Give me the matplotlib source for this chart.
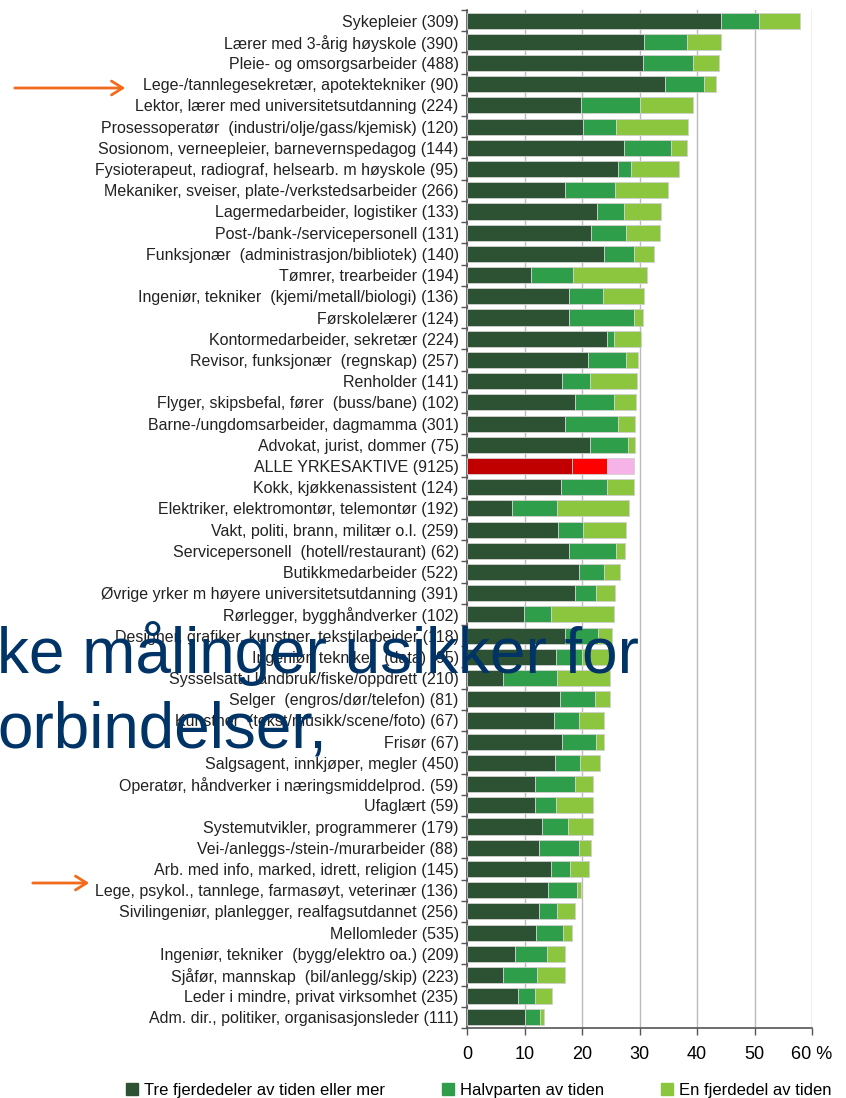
import matplotlib
matplotlib.use('Agg')
import matplotlib.pyplot as plt
import numpy as np

plt.rcParams['font.family'] = ['Liberation Sans', 'DejaVu Sans']

categories = [
    'Sykepleier (309)',
    'Lærer med 3-årig høyskole (390)',
    'Pleie- og omsorgsarbeider (488)',
    'Lege-/tannlegesekretær, apotektekniker (90)',
    'Lektor, lærer med universitetsutdanning (224)',
    'Prosessoperatør  (industri/olje/gass/kjemisk) (120)',
    'Sosionom, verneepleier, barnevernspedagog (144)',
    'Fysioterapeut, radiograf, helsearb. m høyskole (95)',
    'Mekaniker, sveiser, plate-/verkstedsarbeider (266)',
    'Lagermedarbeider, logistiker (133)',
    'Post-/bank-/servicepersonell (131)',
    'Funksjonær  (administrasjon/bibliotek) (140)',
    'Tømrer, trearbeider (194)',
    'Ingeniør, tekniker  (kjemi/metall/biologi) (136)',
    'Førskolelærer (124)',
    'Kontormedarbeider, sekretær (224)',
    'Revisor, funksjonær  (regnskap) (257)',
    'Renholder (141)',
    'Flyger, skipsbefal, fører  (buss/bane) (102)',
    'Barne-/ungdomsarbeider, dagmamma (301)',
    'Advokat, jurist, dommer (75)',
    'ALLE YRKESAKTIVE (9125)',
    'Kokk, kjøkkenassistent (124)',
    'Elektriker, elektromontør, telemontør (192)',
    'Vakt, politi, brann, militær o.l. (259)',
    'Servicepersonell  (hotell/restaurant) (62)',
    'Butikkmedarbeider (522)',
    'Øvrige yrker m høyere universitetsutdanning (391)',
    'Rørlegger, bygghåndverker (102)',
    'Designer, grafiker, kunstner, tekstilarbeider (118)',
    'Ingeniør, tekniker  (data) (95)',
    'Sysselsatt i landbruk/fiske/oppdrett (210)',
    'Selger  (engros/dør/telefon) (81)',
    'Kunstner  (tekst/musikk/scene/foto) (67)',
    'Frisør (67)',
    'Salgsagent, innkjøper, megler (450)',
    'Operatør, håndverker i næringsmiddelprod. (59)',
    'Ufaglært (59)',
    'Systemutvikler, programmerer (179)',
    'Vei-/anleggs-/stein-/murarbeider (88)',
    'Arb. med info, marked, idrett, religion (145)',
    'Lege, psykol., tannlege, farmasøyt, veterinær (136)',
    'Sivilingeniør, planlegger, realfagsutdannet (256)',
    'Mellomleder (535)',
    'Ingeniør, tekniker  (bygg/elektro oa.) (209)',
    'Sjåfør, mannskap  (bil/anlegg/skip) (223)',
    'Leder i mindre, privat virksomhet (235)',
    'Adm. dir., politiker, organisasjonsleder (111)',
]

# percent of workers, by share of working time
tre_fjerdedeler = [44.2, 30.8, 30.6, 34.5, 19.8, 20.1, 27.3, 26.3, 17.1, 22.6,
                   21.5, 23.9, 11.2, 17.7, 17.8, 24.3, 21.1, 16.5, 18.8, 17.1,
                   21.4, 18.3, 16.3, 7.9, 15.9, 17.8, 19.4, 18.8, 9.9, 17.0,
                   15.5, 6.2, 16.2, 15.1, 16.5, 15.3, 11.9, 11.9, 13.1, 12.6,
                   14.6, 14.1, 12.6, 12.0, 8.3, 6.3, 8.9, 10.0]
halvparten = [6.6, 7.5, 8.7, 6.7, 10.2, 5.8, 8.2, 2.2, 8.6, 4.7,
              6.1, 5.2, 7.2, 5.9, 11.2, 1.2, 6.5, 4.9, 6.7, 9.2,
              6.6, 6.0, 8.0, 7.8, 4.3, 8.1, 4.4, 3.7, 4.7, 5.8,
              4.5, 9.5, 6.1, 4.3, 6.0, 4.4, 6.9, 3.5, 4.5, 6.8,
              3.3, 5.0, 3.1, 4.7, 5.6, 5.8, 3.0, 2.7]
en_fjerdedel = [7.1, 5.8, 4.5, 2.1, 9.3, 12.5, 2.7, 8.3, 9.3, 6.5,
                5.9, 3.4, 12.9, 7.2, 1.6, 4.8, 2.2, 8.2, 3.9, 3.0,
                1.3, 4.8, 4.7, 12.4, 7.5, 1.5, 2.8, 3.3, 10.9, 2.5,
                5.0, 9.1, 2.5, 4.4, 1.3, 3.4, 3.1, 6.5, 4.3, 2.1,
                3.4, 0.8, 3.1, 1.6, 3.2, 4.9, 2.9, 0.7]

legend_labels = ['Tre fjerdedeler av tiden eller mer', 'Halvparten av tiden', 'En fjerdedel av tiden']
colors = ['#2d5233', '#2e9e4a', '#8cc63f']
alle_colors = ['#c00000', '#ff0000', '#f5b3e8']
highlight = 'ALLE YRKESAKTIVE (9125)'

fig = plt.figure(figsize=(8.46, 10.98), dpi=100)
ax = fig.add_axes([467 / 846, 1 - 1028 / 1098, (812 - 467) / 846, (1028 - 10) / 1098])

y = np.arange(len(categories))
a = np.array(tre_fjerdedeler)
b = np.array(halvparten)
c = np.array(en_fjerdedel)
seg_cols = [[alle_colors[k] if cat == highlight else colors[k] for cat in categories] for k in range(3)]

h = 0.76
ax.barh(y, a, height=h, color=seg_cols[0], edgecolor='#d0d0d0', linewidth=0.6, zorder=3)
ax.barh(y, b, left=a, height=h, color=seg_cols[1], edgecolor='#d0d0d0', linewidth=0.6, zorder=3)
ax.barh(y, c, left=a + b, height=h, color=seg_cols[2], edgecolor='#d0d0d0', linewidth=0.6, zorder=3)

ax.set_ylim(len(categories) - 0.5, -0.5)
ax.set_xlim(0, 60)
ax.set_yticks(y)
ax.set_yticklabels(categories, fontsize=11.5, color='#222222')
ax.set_yticks(np.arange(-0.5, len(categories), 1), minor=True)
ax.tick_params(axis='y', which='major', length=0, pad=6)
ax.tick_params(axis='y', which='minor', length=4, width=1, color='#555555', direction='out')
ax.set_xticks(np.arange(0, 61, 10))
ax.set_xticklabels(['0', '10', '20', '30', '40', '50', '60 %'], fontsize=13)
ax.tick_params(axis='x', length=5, width=1, color='#555555', pad=8)
ax.grid(axis='x', color='#bbbbbb', linewidth=1, zorder=0)
for s in ['top', 'right']:
    ax.spines[s].set_visible(False)
for s in ['left', 'bottom']:
    ax.spines[s].set_color('#555555')
    ax.spines[s].set_linewidth(1.2)

# legend
handles = [plt.Rectangle((0, 0), 1, 1, color=col) for col in colors]
fig.legend(handles, legend_labels, loc='center', bbox_to_anchor=(0.566, 1 - 1090 / 1098),
           ncol=3, frameon=False, fontsize=12, handlelength=0.7, handleheight=0.7,
           handletextpad=0.4, columnspacing=3.4, borderpad=0, borderaxespad=0)

# overlay text from the slide
fig.text(-0.003, 1 - 673 / 1098, 'ke målinger usikker for', fontsize=46, color='#003366',
         va='baseline', ha='left', zorder=10)
fig.text(-0.003, 1 - 748 / 1098, 'orbindelser,', fontsize=46, color='#003366',
         va='baseline', ha='left', zorder=10)

# orange arrows
orange = '#f26a1b'
fig.add_artist(matplotlib.patches.FancyArrowPatch((12 / 846, 1 - 88 / 1098), (128 / 846, 1 - 88 / 1098),
               transform=fig.transFigure, arrowstyle='->,head_length=8,head_width=5', color=orange, lw=2))
fig.add_artist(matplotlib.patches.FancyArrowPatch((30 / 846, 1 - 883 / 1098), (92 / 846, 1 - 883 / 1098),
               transform=fig.transFigure, arrowstyle='->,head_length=8,head_width=5', color=orange, lw=2))

fig.savefig('out.png', dpi=100)
